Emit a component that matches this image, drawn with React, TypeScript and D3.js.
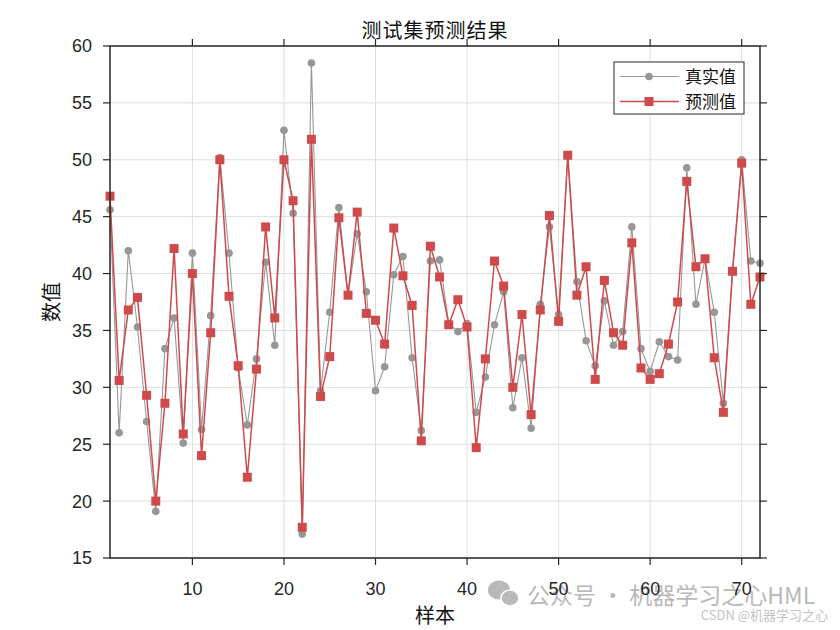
import React, { useEffect, useRef } from 'react'
import * as d3 from 'd3'

// sample index 1..72
const sampleIdx: number[] = d3.range(1, 73)

const actualVals: number[] = [
  45.6, 26.0, 42.0, 35.3, 27.0, 19.1, 33.4, 36.1, 25.1, 41.8,
  26.3, 36.3, 50.2, 41.8, 31.7, 26.7, 32.5, 41.0, 33.7, 52.6,
  45.3, 17.1, 58.5, 29.7, 36.6, 45.8, 38.1, 43.5, 38.4, 29.7,
  31.8, 39.9, 41.5, 32.6, 26.2, 41.1, 41.2, 35.6, 34.9, 35.6,
  27.8, 30.9, 35.5, 38.4, 28.2, 32.6, 26.4, 37.3, 44.1, 36.4,
  50.4, 39.3, 34.1, 31.9, 37.6, 33.7, 34.9, 44.1, 33.4, 31.4,
  34.0, 32.7, 32.4, 49.3, 37.3, 41.3, 36.6, 28.6, 40.2, 50.0,
  41.1, 40.9,
]

const predVals: number[] = [
  46.8, 30.6, 36.8, 37.9, 29.3, 20.0, 28.6, 42.2, 25.9, 40.0,
  24.0, 34.8, 50.0, 38.0, 31.9, 22.1, 31.6, 44.1, 36.1, 50.0,
  46.4, 17.7, 51.8, 29.2, 32.7, 44.9, 38.1, 45.4, 36.5, 35.9,
  33.8, 44.0, 39.8, 37.2, 25.3, 42.4, 39.7, 35.5, 37.7, 35.3,
  24.7, 32.5, 41.1, 38.9, 30.0, 36.4, 27.6, 36.8, 45.1, 35.8,
  50.4, 38.1, 40.6, 30.7, 39.4, 34.8, 33.7, 42.7, 31.7, 30.7,
  31.2, 33.8, 37.5, 48.1, 40.6, 41.3, 32.6, 27.8, 40.2, 49.7,
  37.3, 39.7,
]

const xTicks: number[] = [10, 20, 30, 40, 50, 60, 70]
const yTicks: number[] = [15, 20, 25, 30, 35, 40, 45, 50, 55, 60]
const seriesNames: string[] = ['真实值', '预测值']

export default function App() {
  const ref = useRef<SVGSVGElement | null>(null)

  useEffect(() => {
    if (!ref.current) return
    const svg = d3.select(ref.current)
    svg.selectAll('*').remove()
    const W = 840, H = 630
    const m = { left: 110, top: 46, right: 760, bottom: 558 }
    const cjk = '"Noto Sans CJK SC", sans-serif'
    const num = '"Liberation Sans", Arial, sans-serif'
    const axisCol = '#262626'
    const grayCol = '#979797'
    const redCol = '#cf4a4a'

    svg.append('rect').attr('width', W).attr('height', H).attr('fill', '#fff')

    const x = d3.scaleLinear().domain([1, 72]).range([m.left, m.right])
    const y = d3.scaleLinear().domain([15, 60]).range([m.bottom, m.top])

    // grid
    const grid = svg.append('g').attr('stroke', '#dedede').attr('stroke-width', 1)
    xTicks.forEach(t => grid.append('line').attr('x1', x(t)).attr('x2', x(t)).attr('y1', m.top).attr('y2', m.bottom))
    yTicks.forEach(t => grid.append('line').attr('x1', m.left).attr('x2', m.right).attr('y1', y(t)).attr('y2', y(t)))

    const line = d3.line<number>().x((_, i) => x(sampleIdx[i])).y(d => y(d))

    // actual
    svg.append('path').attr('d', line(actualVals)).attr('fill', 'none').attr('stroke', grayCol).attr('stroke-width', 1.1)
    svg.append('g').selectAll('circle').data(actualVals).enter().append('circle')
      .attr('cx', (_, i) => x(sampleIdx[i])).attr('cy', d => y(d)).attr('r', 3.8).attr('fill', grayCol)

    // predicted
    svg.append('path').attr('d', line(predVals)).attr('fill', 'none').attr('stroke', redCol).attr('stroke-width', 1.5)
    const s = 9
    svg.append('g').selectAll('rect').data(predVals).enter().append('rect')
      .attr('x', (_, i) => x(sampleIdx[i]) - s / 2).attr('y', d => y(d) - s / 2)
      .attr('width', s).attr('height', s).attr('fill', redCol)

    // watermark
    const wm = svg.append('g').attr('opacity', 0.8)
    wm.append('ellipse').attr('cx', 499).attr('cy', 590).attr('rx', 11).attr('ry', 9.5).attr('fill', '#a8a8a8')
    wm.append('ellipse').attr('cx', 510).attr('cy', 598).attr('rx', 9).attr('ry', 8).attr('fill', '#a8a8a8').attr('stroke', '#fff').attr('stroke-width', 1.5)
    wm.append('text').attr('x', 527).attr('y', 604).attr('font-family', cjk).attr('font-size', 23)
      .attr('fill', '#a8a8a8').text('公众号 · 机器学习之心HML')
    svg.append('text').attr('x', 828).attr('y', 620).attr('text-anchor', 'end').attr('font-family', cjk)
      .attr('font-size', 13).attr('fill', '#c4c4c4').text('CSDN @机器学习之心')

    // box
    svg.append('rect').attr('x', m.left).attr('y', m.top).attr('width', m.right - m.left).attr('height', m.bottom - m.top)
      .attr('fill', 'none').attr('stroke', axisCol).attr('stroke-width', 1.5)

    const ticks = svg.append('g').attr('stroke', axisCol).attr('stroke-width', 1.2)
    const tl = 7
    xTicks.forEach(t => {
      ticks.append('line').attr('x1', x(t)).attr('x2', x(t)).attr('y1', m.bottom).attr('y2', m.bottom + tl)
      ticks.append('line').attr('x1', x(t)).attr('x2', x(t)).attr('y1', m.top).attr('y2', m.top - tl)
    })
    yTicks.forEach(t => {
      ticks.append('line').attr('x1', m.left).attr('x2', m.left - tl).attr('y1', y(t)).attr('y2', y(t))
      ticks.append('line').attr('x1', m.right).attr('x2', m.right + tl).attr('y1', y(t)).attr('y2', y(t))
    })

    svg.append('g').selectAll('text').data(xTicks).enter().append('text')
      .attr('x', d => x(d)).attr('y', 595).attr('text-anchor', 'middle')
      .attr('font-family', num).attr('font-size', 18).attr('fill', axisCol).text(d => d)
    svg.append('g').selectAll('text').data(yTicks).enter().append('text')
      .attr('x', 92).attr('y', d => y(d)).attr('dy', '0.36em').attr('text-anchor', 'end')
      .attr('font-family', num).attr('font-size', 18).attr('fill', axisCol).text(d => d)

    // labels
    svg.append('text').attr('x', (m.left + m.right) / 2).attr('y', 38).attr('text-anchor', 'middle')
      .attr('font-family', cjk).attr('font-size', 20).attr('letter-spacing', 1).attr('fill', '#111').text('测试集预测结果')
    svg.append('text').attr('x', 435).attr('y', 623).attr('text-anchor', 'middle')
      .attr('font-family', cjk).attr('font-size', 20).attr('fill', '#111').text('样本')
    svg.append('text').attr('transform', 'translate(59,302) rotate(-90)').attr('text-anchor', 'middle')
      .attr('font-family', cjk).attr('font-size', 20).attr('fill', '#111').text('数值')

    // legend
    const lg = svg.append('g')
    lg.append('rect').attr('x', 614).attr('y', 62).attr('width', 130).attr('height', 52)
      .attr('fill', '#fff').attr('stroke', axisCol).attr('stroke-width', 1)
    const rowsY = [76.5, 101.5]
    seriesNames.forEach((name, i) => {
      const col = i === 0 ? grayCol : redCol
      lg.append('line').attr('x1', 620).attr('x2', 679).attr('y1', rowsY[i]).attr('y2', rowsY[i])
        .attr('stroke', col).attr('stroke-width', i === 0 ? 1.1 : 1.5)
      if (i === 0) lg.append('circle').attr('cx', 649).attr('cy', rowsY[i]).attr('r', 3.8).attr('fill', col)
      else lg.append('rect').attr('x', 649 - s / 2).attr('y', rowsY[i] - s / 2).attr('width', s).attr('height', s).attr('fill', col)
      lg.append('text').attr('x', 685).attr('y', rowsY[i]).attr('dy', '0.36em')
        .attr('font-family', cjk).attr('font-size', 17).attr('fill', '#111').text(name)
    })
  }, [])

  return (
    <div style={{ position: 'absolute', left: 0, top: 0 }}>
      <svg ref={ref} width={840} height={630} style={{ display: 'block' }} />
    </div>
  )
}
